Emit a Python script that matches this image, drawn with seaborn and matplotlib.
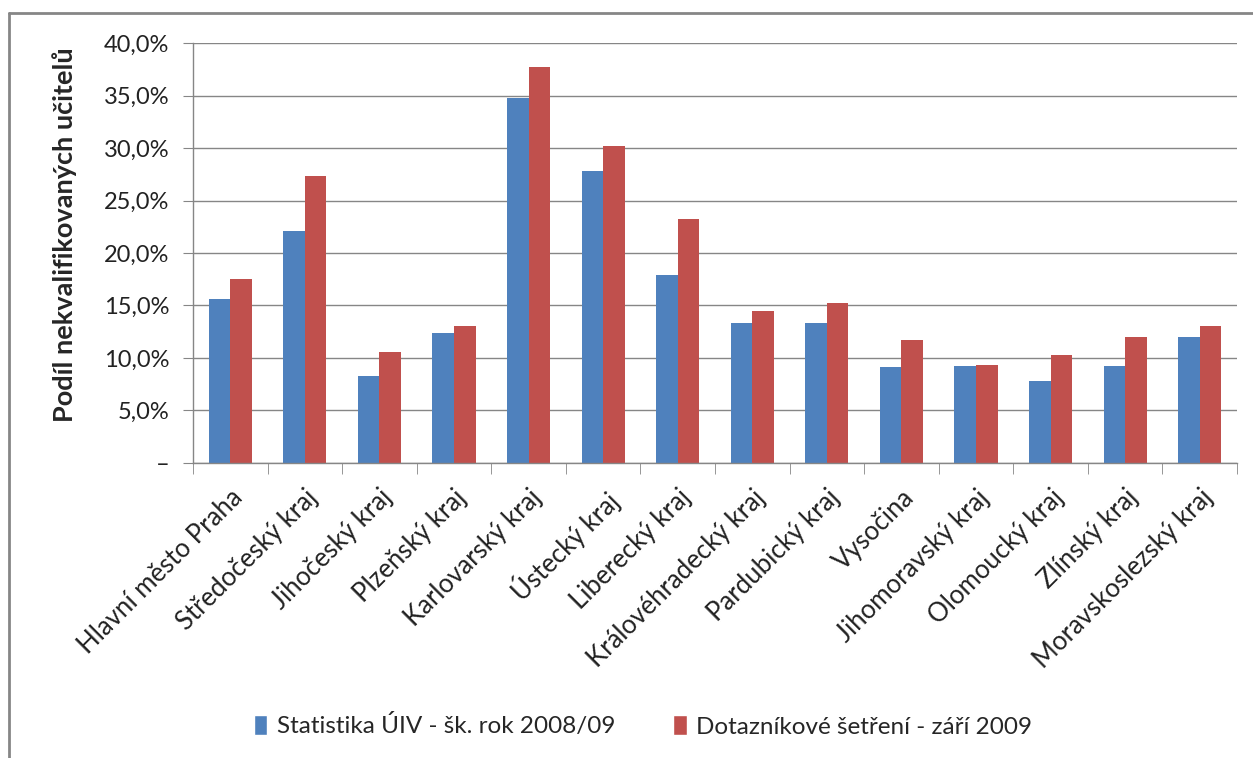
import numpy as np
import pandas as pd
import matplotlib
matplotlib.use('Agg')
import matplotlib.pyplot as plt
from matplotlib.lines import Line2D
from matplotlib.patches import Patch
import seaborn as sns

# Data (percent of unqualified teachers)
kraje = ['Hlavní město Praha', 'Středočeský kraj', 'Jihočeský kraj', 'Plzeňský kraj',
         'Karlovarský kraj', 'Ústecký kraj', 'Liberecký kraj', 'Královéhradecký kraj',
         'Pardubický kraj', 'Vysočina', 'Jihomoravský kraj', 'Olomoucký kraj',
         'Zlínský kraj', 'Moravskoslezský kraj']
statistika_uiv = [15.6, 22.1, 8.3, 12.4, 34.8, 27.8, 17.9, 13.3, 13.3, 9.1, 9.2, 7.8, 9.2, 12.0]
dotaznik = [17.5, 27.3, 10.6, 13.0, 37.7, 30.2, 23.2, 14.5, 15.2, 11.7, 9.3, 10.3, 12.0, 13.0]
serie = ['Statistika ÚIV - šk. rok 2008/09', 'Dotazníkové šetření - září 2009']
y_ticks = [0, 5, 10, 15, 20, 25, 30, 35, 40]

blue = '#4F81BD'
red = '#C0504D'
grey = '#868686'

df = pd.DataFrame({
    'kraj': kraje * 2,
    'podil': statistika_uiv + dotaznik,
    'zdroj': [serie[0]] * len(kraje) + [serie[1]] * len(kraje),
})

sns.set_style('white')
plt.rcParams['font.family'] = ['Lato', 'DejaVu Sans']

fig = plt.figure(figsize=(12.53, 7.58), dpi=100)
ax = fig.add_axes([193 / 1253, 1 - 462.7 / 758, (1237 - 193) / 1253, (462.7 - 43.3) / 758])

sns.barplot(data=df, x='kraj', y='podil', hue='zdroj', palette=[blue, red],
            width=0.58, saturation=1, linewidth=0, ax=ax, legend=False)

ax.set_ylim(0, 40)
ax.set_xlim(-0.5, len(kraje) - 0.5)
ax.set_yticks(y_ticks)
ax.set_yticklabels(['–' if v == 0 else f'{v:.1f}%'.replace('.', ',') for v in y_ticks])
ax.yaxis.grid(True, color=grey, lw=1)
ax.set_axisbelow(True)

for s in ['top', 'right']:
    ax.spines[s].set_visible(False)
for s in ['left', 'bottom']:
    ax.spines[s].set_color(grey)
    ax.spines[s].set_linewidth(1)

ax.tick_params(axis='y', length=7, color=grey, labelsize=17, pad=10, left=True, labelcolor='#222222')
ax.set_xticks(np.arange(len(kraje)))
ax.set_xticklabels(kraje, rotation=45, ha='right', rotation_mode='anchor', fontsize=18.5)
ax.tick_params(axis='x', length=0, pad=16, labelcolor='#222222')
ax.set_xticks(np.arange(len(kraje) + 1) - 0.5, minor=True)
ax.tick_params(axis='x', which='minor', length=8, color=grey, bottom=True)

ax.set_xlabel('')
ax.set_ylabel('Podíl nekvalifikovaných učitelů', fontsize=19.5, fontweight='bold')
ax.yaxis.set_label_coords(-0.111, 0.543)

handles = [Patch(facecolor=blue), Patch(facecolor=red)]
fig.legend(handles, serie, loc='center', bbox_to_anchor=(643 / 1253, 1 - 726 / 758), ncol=2,
           frameon=False, fontsize=17.5, handlelength=0.55, handleheight=0.9,
           handletextpad=0.4, columnspacing=2.4)

# outer chart border (left and top visible in the reference)
fig.add_artist(Line2D([9 / 1253, 9 / 1253], [0, 1 - 13 / 758], transform=fig.transFigure, color=grey, lw=2))
fig.add_artist(Line2D([9 / 1253, 1], [1 - 13 / 758, 1 - 13 / 758], transform=fig.transFigure, color=grey, lw=2))

fig.savefig('out.png', dpi=100)
